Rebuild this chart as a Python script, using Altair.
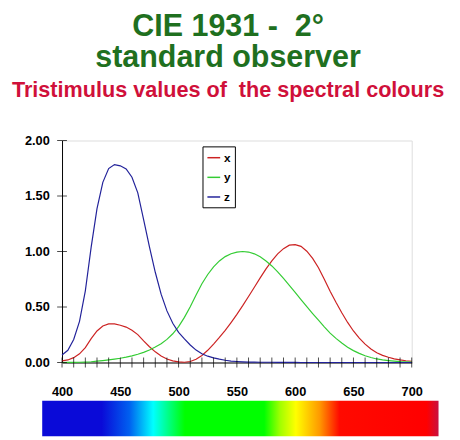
import altair as alt
import pandas as pd

# ---- data ----
wavelengths = list(range(400, 701, 5))
x_bar = [0.014, 0.023, 0.044, 0.078, 0.134, 0.215, 0.284, 0.329, 0.348, 0.348,
         0.336, 0.319, 0.291, 0.251, 0.195, 0.142, 0.096, 0.058, 0.032, 0.015,
         0.005, 0.002, 0.009, 0.029, 0.063, 0.110, 0.166, 0.226, 0.290, 0.360,
         0.433, 0.512, 0.595, 0.678, 0.762, 0.843, 0.916, 0.979, 1.026, 1.057,
         1.062, 1.046, 1.003, 0.938, 0.854, 0.751, 0.642, 0.542, 0.448, 0.361,
         0.284, 0.219, 0.165, 0.121, 0.087, 0.064, 0.047, 0.033, 0.023, 0.016, 0.011]
y_bar = [0.000, 0.001, 0.001, 0.002, 0.004, 0.007, 0.012, 0.017, 0.023, 0.030,
         0.038, 0.048, 0.060, 0.074, 0.091, 0.113, 0.139, 0.169, 0.208, 0.259,
         0.323, 0.407, 0.503, 0.608, 0.710, 0.793, 0.862, 0.915, 0.954, 0.980,
         0.995, 1.000, 0.995, 0.979, 0.952, 0.915, 0.870, 0.816, 0.757, 0.695,
         0.631, 0.567, 0.503, 0.441, 0.381, 0.321, 0.265, 0.217, 0.175, 0.138,
         0.107, 0.082, 0.061, 0.045, 0.032, 0.023, 0.017, 0.012, 0.008, 0.006, 0.004]
z_bar = [0.068, 0.110, 0.207, 0.371, 0.646, 1.039, 1.386, 1.623, 1.747, 1.783,
         1.772, 1.744, 1.669, 1.528, 1.288, 1.042, 0.813, 0.616, 0.465, 0.353,
         0.272, 0.212, 0.158, 0.112, 0.078, 0.057, 0.042, 0.030, 0.020, 0.013,
         0.009, 0.006, 0.004, 0.003, 0.002, 0.002, 0.002, 0.001, 0.001, 0.001,
         0.001, 0.000, 0.000, 0.000, 0.000, 0.000, 0.000, 0.000, 0.000, 0.000,
         0.000, 0.000, 0.000, 0.000, 0.000, 0.000, 0.000, 0.000, 0.000, 0.000, 0.000]
series_names = ["x", "y", "z"]
x_tick_labels = [400, 450, 500, 550, 600, 650, 700]
y_tick_labels = [0.0, 0.5, 1.0, 1.5, 2.0]
minor_ticks_nm = list(range(400, 701, 10))
spectrum_range_nm = [383, 723]

NB = "\u00a0"
title_lines = ["CIE 1931 -" + NB + NB + "2°", "standard observer"]
subtitle_line = "Tristimulus values of" + NB + NB + "the spectral colours"

GREEN = "#1f701f"
RED_T = "#d0103a"
FONT = "Liberation Sans"

rows = []
for name, vals in zip(series_names, [x_bar, y_bar, z_bar]):
    for w, v in zip(wavelengths, vals):
        rows.append({"wl": w, "value": v, "series": name})
df = pd.DataFrame(rows)

xs = alt.Scale(domain=[400, 700], nice=False, zero=False)
ys = alt.Scale(domain=[0, 2], nice=False, zero=False)

lines = alt.Chart(df).mark_line(strokeWidth=1.2).encode(
    x=alt.X("wl:Q", scale=xs,
            axis=alt.Axis(values=x_tick_labels, format="d", ticks=False, grid=False,
                          domainColor="black", labelFont=FONT, labelFontSize=13,
                          labelFontWeight="bold", labelColor="black", labelPadding=24,
                          labelFlush=False, title=None)),
    y=alt.Y("value:Q", scale=ys,
            axis=alt.Axis(values=y_tick_labels, format=".2f", ticks=False, grid=False,
                          domainColor="black", labelFont=FONT, labelFontSize=13,
                          labelFontWeight="bold", labelColor="black", labelPadding=13,
                          labelFlush=False, title=None)),
    color=alt.Color("series:N",
                    scale=alt.Scale(domain=series_names, range=["#cc2222", "#33cc33", "#22229a"]),
                    legend=alt.Legend(orient="none", legendX=143, legendY=6, title=None,
                                      strokeColor="black", fillColor="white", padding=4,
                                      symbolType="stroke", symbolSize=169, symbolStrokeWidth=1.5,
                                      labelFont=FONT, labelFontSize=12, labelFontWeight="bold",
                                      rowPadding=6, labelOffset=3)),
)

xt = alt.Chart(pd.DataFrame({"wl": minor_ticks_nm, "v": [0.0] * len(minor_ticks_nm)})).mark_tick(
    orient="vertical", size=10, thickness=1, color="black").encode(
    x=alt.X("wl:Q", scale=xs), y=alt.Y("v:Q", scale=ys))

yt = alt.Chart(pd.DataFrame({"v": y_tick_labels, "wl": [400] * len(y_tick_labels)})).mark_tick(
    orient="horizontal", size=10, thickness=1, color="black").encode(
    x=alt.X("wl:Q", scale=xs), y=alt.Y("v:Q", scale=ys))

grad = {
    "gradient": "linear", "x1": 0, "x2": 1, "y1": 0, "y2": 0,
    "stops": [
        {"offset": 0.0, "color": "#0a0ad8"},
        {"offset": 0.15, "color": "#0a0ad8"},
        {"offset": 0.22, "color": "#0060f0"},
        {"offset": 0.28, "color": "#00ffff"},
        {"offset": 0.36, "color": "#00ff00"},
        {"offset": 0.56, "color": "#00ff00"},
        {"offset": 0.60, "color": "#a0ff00"},
        {"offset": 0.64, "color": "#ffff00"},
        {"offset": 0.70, "color": "#ff9900"},
        {"offset": 0.75, "color": "#ff0a00"},
        {"offset": 0.97, "color": "#ff0000"},
        {"offset": 1.0, "color": "#c81040"},
    ],
}
spec = alt.Chart(pd.DataFrame({"w0": [spectrum_range_nm[0]], "w1": [spectrum_range_nm[1]]})).mark_rect(
    fill=grad).encode(
    x=alt.X("w0:Q", scale=xs), x2="w1:Q",
    y=alt.value(265), y2=alt.value(301))

chart = alt.layer(spec, lines, xt, yt).properties(
    width=356, height=226,
    autosize=alt.AutoSizeParams(type="none"),
    padding={"left": 55, "top": 131, "right": 41, "bottom": 75},
    title=alt.TitleParams(
        text=title_lines,
        subtitle=subtitle_line,
        anchor="middle", font=FONT, fontSize=31, fontWeight="bold", color=GREEN,
        lineHeight=31, subtitleFont=FONT, subtitleFontSize=22, subtitleFontWeight="bold",
        subtitleColor=RED_T, subtitlePadding=7, offset=33, dx=-9),
).configure_view(stroke=None).configure(background="white")

chart.save("out.html", embed_options={"renderer": "svg", "actions": False})
